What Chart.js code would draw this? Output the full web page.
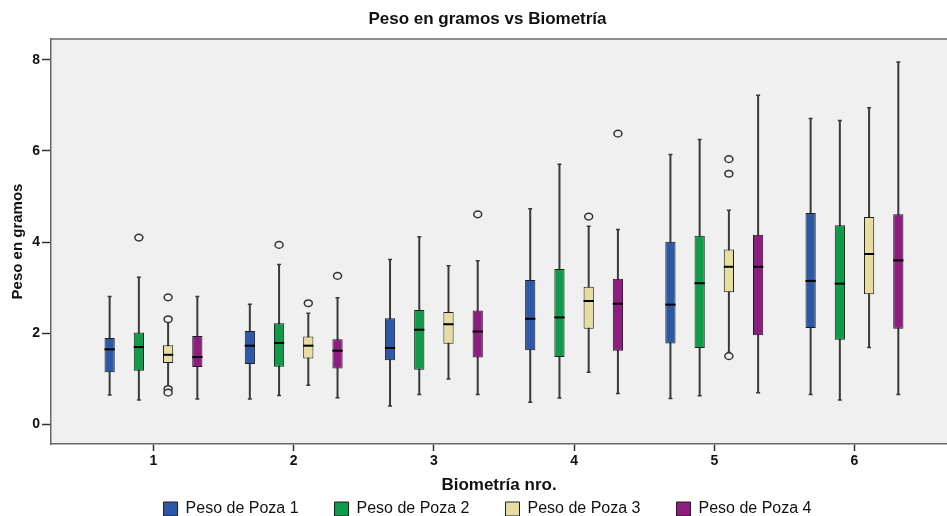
<!DOCTYPE html>
<html lang="es">
<head>
<meta charset="UTF-8">
<title>Peso en gramos vs Biometría</title>
<script src="https://cdn.jsdelivr.net/npm/chart.js"></script>
<style>
    html, body { margin: 0; padding: 0; background: #fff; }
    #wrap { width: 947px; height: 516px; }
</style>
</head>
<body>
<div id="wrap"><canvas id="boxChart"></canvas></div>
<script>
    // categories and series
    const biometrias = [1, 2, 3, 4, 5, 6];
    const pozas = ['Peso de Poza 1', 'Peso de Poza 2', 'Peso de Poza 3', 'Peso de Poza 4'];
    const yTicks = [0, 2, 4, 6, 8];

    // box plot statistics, one row per poza, one column per biometria
    const whiskerLow = [
        [0.65, 0.56, 0.41, 0.49, 0.57, 0.66],
        [0.54, 0.64, 0.66, 0.58, 0.63, 0.54],
        [0.83, 0.86, 1.00, 1.15, 1.58, 1.69],
        [0.56, 0.59, 0.66, 0.68, 0.70, 0.66]
    ];
    const q1 = [
        [1.15, 1.33, 1.41, 1.63, 1.78, 2.12],
        [1.18, 1.27, 1.20, 1.48, 1.68, 1.86],
        [1.35, 1.45, 1.77, 2.10, 2.90, 2.86],
        [1.26, 1.23, 1.47, 1.62, 1.96, 2.10]
    ];
    const medians = [
        [1.65, 1.73, 1.68, 2.32, 2.63, 3.15],
        [1.70, 1.79, 2.08, 2.35, 3.10, 3.09],
        [1.53, 1.73, 2.20, 2.71, 3.46, 3.74],
        [1.48, 1.62, 2.04, 2.65, 3.46, 3.60]
    ];
    const q3 = [
        [1.90, 2.05, 2.33, 3.17, 4.01, 4.64],
        [2.02, 2.22, 2.51, 3.41, 4.14, 4.37],
        [1.74, 1.93, 2.47, 3.02, 3.84, 4.55],
        [1.94, 1.87, 2.50, 3.20, 4.16, 4.61]
    ];
    const whiskerHigh = [
        [2.81, 2.64, 3.62, 4.73, 5.92, 6.71],
        [3.23, 3.51, 4.12, 5.71, 6.25, 6.67],
        [2.27, 2.44, 3.48, 4.35, 4.70, 6.95],
        [2.81, 2.78, 3.59, 4.28, 7.22, 7.95]
    ];
    const outliers = [
        [[], [], [], [], [], []],
        [[4.10], [3.94], [], [], [], []],
        [[2.79, 2.31, 0.78, 0.70], [2.66], [], [4.56], [5.82, 5.50, 1.50], []],
        [[], [3.26], [4.61], [6.38], [], []]
    ];

    const pozaColors = ['#2c58a6', '#109b4a', '#e8dda0', '#8e1d80'];
    const fontFamily = '"Liberation Sans", Arial, Helvetica, sans-serif';
    const plotBg = '#f0f0f0';

    // whiskers behind the boxes, medians and outliers on top
    const boxPlotPlugin = {
        id: 'boxPlot',
        beforeDraw(chart) {
            const {ctx, chartArea: a} = chart;
            ctx.save();
            ctx.fillStyle = plotBg;
            ctx.fillRect(a.left, a.top, a.right - a.left, a.bottom - a.top);
            ctx.strokeStyle = '#6b6b6b';
            ctx.lineWidth = 1.5;
            ctx.beginPath();
            ctx.moveTo(a.left, a.top);
            ctx.lineTo(a.right, a.top);
            ctx.stroke();
            ctx.restore();
        },
        beforeDatasetsDraw(chart) {
            const {ctx} = chart;
            const y = chart.scales.y;
            ctx.save();
            ctx.strokeStyle = '#3a3a3a';
            chart.data.datasets.forEach((ds, p) => {
                chart.getDatasetMeta(p).data.forEach((bar, j) => {
                    const lo = y.getPixelForValue(whiskerLow[p][j]);
                    const hi = y.getPixelForValue(whiskerHigh[p][j]);
                    ctx.lineWidth = 2;
                    ctx.beginPath();
                    ctx.moveTo(bar.x, lo);
                    ctx.lineTo(bar.x, hi);
                    ctx.stroke();
                    ctx.lineWidth = 1.5;
                    ctx.beginPath();
                    ctx.moveTo(bar.x - 2, lo);
                    ctx.lineTo(bar.x + 2, lo);
                    ctx.moveTo(bar.x - 2, hi);
                    ctx.lineTo(bar.x + 2, hi);
                    ctx.stroke();
                });
            });
            ctx.restore();
        },
        afterDatasetsDraw(chart) {
            const {ctx} = chart;
            const y = chart.scales.y;
            ctx.save();
            chart.data.datasets.forEach((ds, p) => {
                chart.getDatasetMeta(p).data.forEach((bar, j) => {
                    const half = bar.width / 2;
                    const m = y.getPixelForValue(medians[p][j]);
                    ctx.strokeStyle = '#000';
                    ctx.lineWidth = 2;
                    ctx.beginPath();
                    ctx.moveTo(bar.x - half, m);
                    ctx.lineTo(bar.x + half, m);
                    ctx.stroke();

                    ctx.strokeStyle = '#333';
                    ctx.lineWidth = 1.5;
                    ctx.fillStyle = plotBg;
                    outliers[p][j].forEach(v => {
                        ctx.beginPath();
                        ctx.ellipse(bar.x, y.getPixelForValue(v), 4, 3.3, 0, 0, Math.PI * 2);
                        ctx.fill();
                        ctx.stroke();
                    });
                });
            });
            ctx.restore();
        }
    };

    const datasets = pozas.map((name, p) => ({
        label: name,
        data: biometrias.map((b, j) => ({x: b, y: [q1[p][j], q3[p][j]]})),
        backgroundColor: pozaColors[p],
        borderColor: '#1e1e1e',
        borderWidth: 1,
        borderSkipped: false,
        categoryPercentage: 0.834,
        barPercentage: 0.35
    }));

    const ctx = document.getElementById('boxChart').getContext('2d');
    new Chart(ctx, {
        type: 'bar',
        data: { datasets: datasets },
        plugins: [boxPlotPlugin],
        options: {
            responsive: true,
            maintainAspectRatio: false,
            animation: false,
            layout: { padding: { left: 0, right: -28, top: 0, bottom: -11 } },
            plugins: {
                title: {
                    display: true,
                    text: 'Peso en gramos vs Biometría',
                    color: '#111',
                    font: { family: fontFamily, size: 17, weight: 'bold' },
                    padding: { top: 9, bottom: 9.6 }
                },
                legend: {
                    position: 'bottom',
                    labels: {
                        boxWidth: 14,
                        boxHeight: 14,
                        padding: 36,
                        color: '#111',
                        font: { family: fontFamily, size: 16 }
                    }
                },
                tooltip: { enabled: false }
            },
            scales: {
                x: {
                    type: 'linear',
                    min: 0.269,
                    max: 6.66,
                    offset: false,
                    afterBuildTicks: s => { s.ticks = biometrias.map(v => ({value: v})); },
                    afterFit: s => { s.height = 21; },
                    grid: { offset: false, drawOnChartArea: false, tickLength: 7, tickColor: '#333', tickWidth: 1.5 },
                    border: { display: true, color: '#666', width: 1.5 },
                    ticks: { padding: 2, color: '#111', font: { family: fontFamily, size: 14, weight: 'bold' } },
                    title: {
                        display: true,
                        text: 'Biometría nro.',
                        color: '#111',
                        font: { family: fontFamily, size: 17, weight: 'bold' },
                        padding: { top: 0, bottom: -31 }
                    }
                },
                y: {
                    min: -0.426,
                    max: 8.455,
                    afterBuildTicks: s => { s.ticks = yTicks.map(v => ({value: v})); },
                    afterFit: s => { s.width = 51; },
                    grid: { drawOnChartArea: false, tickLength: 9, tickColor: '#333', tickWidth: 1.5 },
                    border: { display: true, color: '#666', width: 1.5 },
                    ticks: { padding: 2, color: '#111', font: { family: fontFamily, size: 14, weight: 'bold' } },
                    title: {
                        display: true,
                        text: 'Peso en gramos',
                        color: '#111',
                        font: { family: fontFamily, size: 15, weight: 'bold' },
                        padding: { top: 9, bottom: 0 }
                    }
                }
            }
        }
    });
</script>
</body>
</html>
